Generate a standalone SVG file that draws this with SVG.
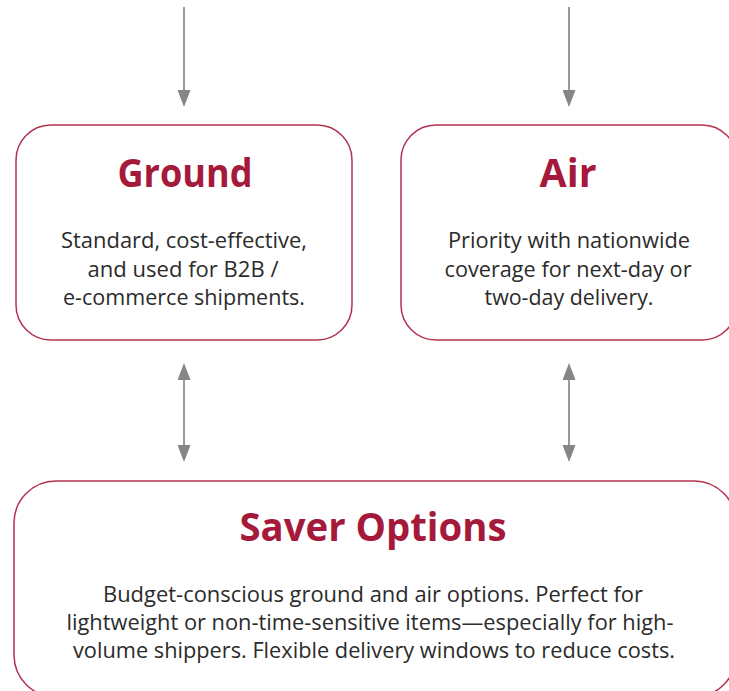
<svg xmlns="http://www.w3.org/2000/svg" width="729" height="691" viewBox="0 0 729 691">
  <style>
    .box { fill: #ffffff; stroke: #b3324f; stroke-width: 1.5; }
    .title { font-family: "Open Sans", "Noto Sans", "Liberation Sans", sans-serif; font-weight: 700; font-size: 39px; fill: #a51a3b; text-anchor: middle; }
    .body { font-family: "Open Sans", "Noto Sans", "Liberation Sans", sans-serif; font-size: 21px; fill: #2b2b2b; text-anchor: middle; }
    .conn { stroke: #9a9a9a; stroke-width: 2; fill: none; }
  </style>
  <defs>
    <marker id="arrow" markerUnits="userSpaceOnUse" markerWidth="17" markerHeight="13" viewBox="0 0 17 13" refX="0" refY="6.5" orient="auto-start-reverse">
      <path d="M0,0 L17,6.5 L0,13 z" fill="#858585"/>
    </marker>
  </defs>
  <rect width="729" height="691" fill="#ffffff"/>

  <g id="connectors">
    <line class="conn" x1="184" y1="7" x2="184" y2="90" marker-end="url(#arrow)"/>
    <line class="conn" x1="569" y1="7" x2="569" y2="90" marker-end="url(#arrow)"/>
    <line class="conn" x1="184" y1="380" x2="184" y2="445" marker-start="url(#arrow)" marker-end="url(#arrow)"/>
    <line class="conn" x1="569" y1="380" x2="569" y2="445" marker-start="url(#arrow)" marker-end="url(#arrow)"/>
  </g>

  <g id="ground">
    <rect class="box" x="16" y="125" width="336" height="215" rx="35" ry="35"/>
    <text class="title" x="185" y="187" textLength="135" lengthAdjust="spacingAndGlyphs">Ground</text>
    <text class="body" x="184" y="248" textLength="246" lengthAdjust="spacingAndGlyphs">Standard, cost-effective,</text>
    <text class="body" x="183" y="277" textLength="191" lengthAdjust="spacingAndGlyphs">and used for B2B /</text>
    <text class="body" x="184" y="305" textLength="242" lengthAdjust="spacingAndGlyphs">e-commerce shipments.</text>
  </g>

  <g id="air">
    <rect class="box" x="401" y="125" width="336" height="215" rx="35" ry="35"/>
    <text class="title" x="568" y="187" textLength="57" lengthAdjust="spacingAndGlyphs">Air</text>
    <text class="body" x="569" y="248" textLength="242" lengthAdjust="spacingAndGlyphs">Priority with nationwide</text>
    <text class="body" x="568" y="277" textLength="247" lengthAdjust="spacingAndGlyphs">coverage for next-day or</text>
    <text class="body" x="569" y="305" textLength="169" lengthAdjust="spacingAndGlyphs">two-day delivery.</text>
  </g>

  <g id="saver">
    <rect class="box" x="14" y="481" width="722" height="216" rx="42" ry="42"/>
    <text class="title" x="373" y="541" textLength="267" lengthAdjust="spacingAndGlyphs">Saver Options</text>
    <text class="body" x="373" y="602" textLength="540" lengthAdjust="spacingAndGlyphs">Budget-conscious ground and air options. Perfect for</text>
    <text class="body" x="370" y="630" textLength="607" lengthAdjust="spacingAndGlyphs">lightweight or non-time-sensitive items—especially for high-</text>
    <text class="body" x="374" y="658" textLength="602" lengthAdjust="spacingAndGlyphs">volume shippers. Flexible delivery windows to reduce costs.</text>
  </g>
</svg>
